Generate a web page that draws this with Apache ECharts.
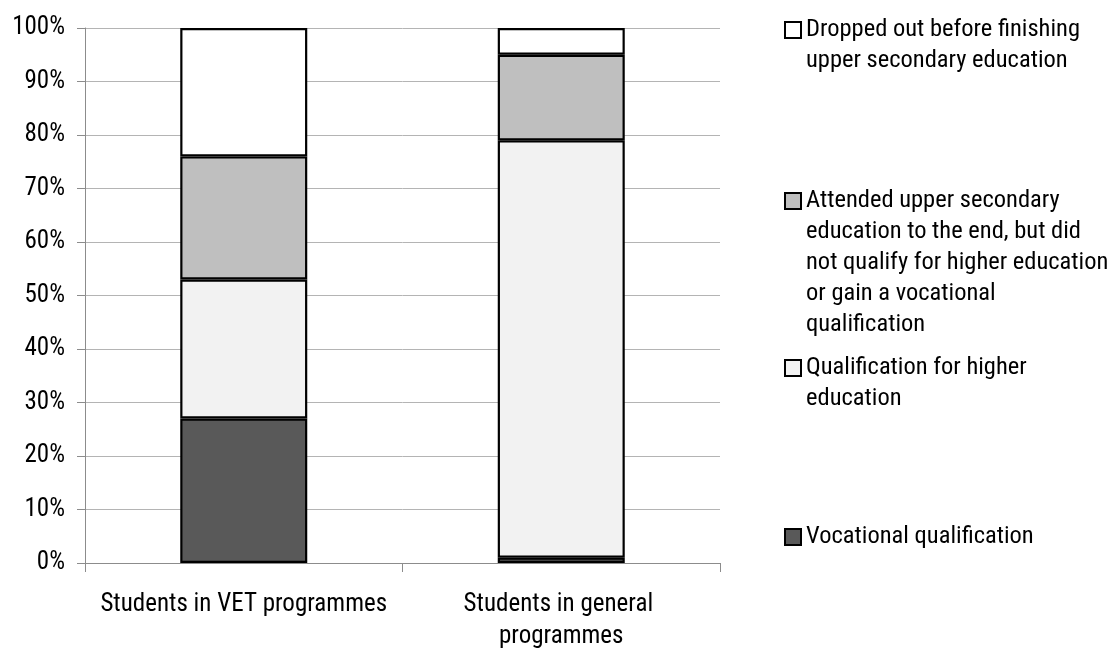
<!DOCTYPE html>
<html>
<head>
<meta charset="utf-8">
<script src="https://cdn.jsdelivr.net/npm/echarts@6/dist/echarts.min.js"></script>
<style>
  html, body { margin: 0; padding: 0; background: #fff; }
  #chart { width: 1109px; height: 653px; }
</style>
</head>
<body>
<div id="chart"></div>
<script>
// Programme groups on the x axis
const categories = ['Students in VET programmes', 'Students in general programmes'];

// Outcome shares (percent), stacked bottom to top
const vocational    = [27, 1];
const qualification = [26, 78];
const attended      = [23, 16];
const droppedOut    = [24, 5];

const seriesNames = [
  'Vocational qualification',
  'Qualification for higher education',
  'Attended upper secondary education to the end, but did not qualify for higher education or gain a vocational qualification',
  'Dropped out before finishing upper secondary education'
];

// Legend text as wrapped lines
const legendLines = {
  'Dropped out before finishing upper secondary education':
    ['Dropped out before finishing', 'upper secondary education'],
  'Attended upper secondary education to the end, but did not qualify for higher education or gain a vocational qualification':
    ['Attended upper secondary', 'education to the end, but did', 'not qualify for higher education', 'or gain a vocational', 'qualification'],
  'Qualification for higher education':
    ['Qualification for higher', 'education'],
  'Vocational qualification':
    ['Vocational qualification']
};

const yTicks = [0, 10, 20, 30, 40, 50, 60, 70, 80, 90, 100];

const FONT = '"Roboto Condensed", "Liberation Sans Narrow", sans-serif';
const fills = ['#595959', '#f2f2f2', '#bfbfbf', '#ffffff'];
const seriesData = [vocational, qualification, attended, droppedOut];

const LINE_H = 31;
// vertical centre of the first text line of each legend entry
const legendFirstLine = {};
legendFirstLine[seriesNames[3]] = 30;
legendFirstLine[seriesNames[2]] = 201;
legendFirstLine[seriesNames[1]] = 368;
legendFirstLine[seriesNames[0]] = 537;

// One legend per entry so each block sits at its own height.
// Blank leading lines keep the swatch level with the first text line.
const legends = seriesNames.map(function (name) {
  const n = legendLines[name].length;
  const top = legendFirstLine[name] - (2 * n - 1) * LINE_H / 2;
  return {
    data: [name],
    orient: 'vertical',
    left: 784,
    top: top,
    padding: 0,
    itemWidth: 16,
    itemHeight: 16,
    selectedMode: false,
    icon: 'rect',
    itemStyle: { borderWidth: 2, borderColor: '#000' },
    formatter: function (nm) {
      const lines = legendLines[nm];
      return new Array(lines.length).join('\n') + lines.join('\n');
    },
    textStyle: {
      fontFamily: FONT,
      fontSize: 24.5,
      color: '#000',
      lineHeight: LINE_H
    }
  };
});

const chart = echarts.init(document.getElementById('chart'), null, { renderer: 'canvas' });

chart.setOption({
  animation: false,
  backgroundColor: '#ffffff',
  grid: { left: 85, right: 389, top: 28, bottom: 87, containLabel: false },
  legend: legends,
  xAxis: {
    type: 'category',
    data: categories,
    axisLine: { lineStyle: { color: '#8c8c8c', width: 1 } },
    axisTick: { show: true, length: 9, lineStyle: { color: '#8c8c8c' } },
    axisLabel: {
      fontFamily: FONT,
      fontSize: 25,
      color: '#000',
      lineHeight: 32,
      margin: 26,
      width: 295,
      overflow: 'break',
      interval: 0
    }
  },
  yAxis: {
    type: 'value',
    min: yTicks[0],
    max: yTicks[yTicks.length - 1],
    interval: 10,
    axisLine: { show: true, lineStyle: { color: '#8c8c8c', width: 1 } },
    axisTick: { show: true, length: 8, lineStyle: { color: '#8c8c8c' } },
    splitLine: { lineStyle: { color: '#b4b4b4', width: 1 } },
    axisLabel: {
      fontFamily: FONT,
      fontSize: 25,
      color: '#000',
      margin: 20,
      formatter: function (v) { return v + '%'; }
    }
  },
  series: seriesNames.map(function (name, i) {
    return {
      name: name,
      type: 'bar',
      stack: 'total',
      barWidth: '40%',
      data: seriesData[i],
      itemStyle: { color: fills[i], borderColor: '#000', borderWidth: 2.2 },
      emphasis: { disabled: true }
    };
  })
});
</script>
</body>
</html>
